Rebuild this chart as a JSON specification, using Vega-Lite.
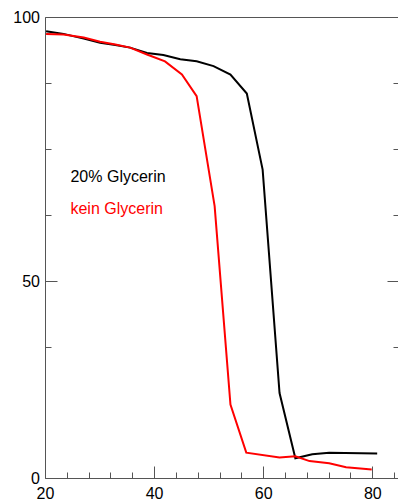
{
  "$schema": "https://vega.github.io/schema/vega-lite/v6.json",
  "autosize": {"type": "none"},
  "padding": {"left": 45, "top": 17, "right": 0, "bottom": 25},
  "width": 354,
  "height": 461,
  "background": "white",
  "config": {
    "view": {"stroke": null},
    "axis": {"grid": false, "labelFlush": false, "labelOverlap": false, "labelBound": false, "title": null,
             "domainColor": "#555", "tickColor": "#555", "labelFont": "Liberation Sans", "labelFontSize": 16,
             "labelColor": "#000", "domainWidth": 1, "tickWidth": 1}
  },
  "datasets": {
    "curves": [
      {"series": "20% Glycerin", "temp": 20.2, "value": 97.3},
      {"series": "20% Glycerin", "temp": 23.4, "value": 96.8},
      {"series": "20% Glycerin", "temp": 27.1, "value": 95.9},
      {"series": "20% Glycerin", "temp": 30.1, "value": 95.1},
      {"series": "20% Glycerin", "temp": 32.9, "value": 94.7},
      {"series": "20% Glycerin", "temp": 35.6, "value": 94.2},
      {"series": "20% Glycerin", "temp": 38.7, "value": 93.2},
      {"series": "20% Glycerin", "temp": 41.7, "value": 92.8},
      {"series": "20% Glycerin", "temp": 44.8, "value": 92.0},
      {"series": "20% Glycerin", "temp": 47.8, "value": 91.6},
      {"series": "20% Glycerin", "temp": 50.9, "value": 90.7},
      {"series": "20% Glycerin", "temp": 54.0, "value": 89.1},
      {"series": "20% Glycerin", "temp": 57.0, "value": 85.5},
      {"series": "20% Glycerin", "temp": 59.9, "value": 71.1},
      {"series": "20% Glycerin", "temp": 63.0, "value": 28.8},
      {"series": "20% Glycerin", "temp": 65.9, "value": 16.45},
      {"series": "20% Glycerin", "temp": 69.0, "value": 17.2},
      {"series": "20% Glycerin", "temp": 72.1, "value": 17.5},
      {"series": "20% Glycerin", "temp": 80.9, "value": 17.35},
      {"series": "kein Glycerin", "temp": 20.2, "value": 96.8},
      {"series": "kein Glycerin", "temp": 23.4, "value": 96.7},
      {"series": "kein Glycerin", "temp": 27.1, "value": 96.1},
      {"series": "kein Glycerin", "temp": 30.1, "value": 95.3},
      {"series": "kein Glycerin", "temp": 32.9, "value": 94.8},
      {"series": "kein Glycerin", "temp": 35.6, "value": 94.2},
      {"series": "kein Glycerin", "temp": 38.7, "value": 92.9},
      {"series": "kein Glycerin", "temp": 42.0, "value": 91.6},
      {"series": "kein Glycerin", "temp": 45.1, "value": 89.1},
      {"series": "kein Glycerin", "temp": 47.8, "value": 85.0},
      {"series": "kein Glycerin", "temp": 51.1, "value": 64.2},
      {"series": "kein Glycerin", "temp": 54.0, "value": 26.6},
      {"series": "kein Glycerin", "temp": 56.9, "value": 17.5},
      {"series": "kein Glycerin", "temp": 63.0, "value": 16.6},
      {"series": "kein Glycerin", "temp": 65.9, "value": 16.8},
      {"series": "kein Glycerin", "temp": 68.5, "value": 15.9},
      {"series": "kein Glycerin", "temp": 72.1, "value": 15.5},
      {"series": "kein Glycerin", "temp": 75.2, "value": 14.75},
      {"series": "kein Glycerin", "temp": 79.9, "value": 14.3}
    ],
    "labels": [
      {"series": "20% Glycerin", "temp": 24.67, "value": 68.7},
      {"series": "kein Glycerin", "temp": 24.67, "value": 62.66}
    ]
  },
  "resolve": {"axis": {"x": "independent", "y": "independent"}},
  "layer": [
    {
      "data": {"name": "curves"},
      "mark": {"type": "line", "strokeWidth": 2, "clip": true},
      "encoding": {
        "x": {"field": "temp", "type": "quantitative",
              "scale": {"domain": [20, 84.9], "nice": false, "zero": false},
              "axis": {"orient": "bottom", "values": [20, 40, 60, 80], "tickSize": -12, "labelPadding": 19}},
        "y": {"field": "value", "type": "quantitative",
              "scale": {"domain": [12.7, 100], "nice": false, "zero": false},
              "axis": {"orient": "left", "values": [12.7, 50, 100], "tickSize": -12, "labelPadding": 17.5,
                       "labelExpr": "datum.value < 20 ? '0' : datum.label"}},
        "color": {"field": "series", "type": "nominal",
                  "scale": {"domain": ["20% Glycerin", "kein Glycerin"], "range": ["#000000", "#ff0000"]},
                  "legend": null}
      }
    },
    {
      "data": {"name": "labels"},
      "mark": {"type": "text", "align": "left", "baseline": "alphabetic", "font": "Liberation Sans", "fontSize": 16},
      "encoding": {
        "x": {"field": "temp", "type": "quantitative",
              "axis": {"orient": "bottom", "values": [24, 28, 32, 36, 44, 48, 52, 56, 64, 68, 72, 76, 84], "tickSize": -6, "labels": false, "domain": false}},
        "y": {"field": "value", "type": "quantitative",
              "axis": {"orient": "left", "values": [37.5, 62.5, 75, 87.5], "tickSize": -6, "labels": false, "domain": false}},
        "text": {"field": "series"},
        "color": {"field": "series", "type": "nominal", "legend": null}
      }
    },
    {
      "data": {"name": "curves"},
      "mark": {"type": "point", "opacity": 0},
      "encoding": {
        "x": {"field": "temp", "type": "quantitative",
              "axis": {"orient": "top", "ticks": false, "labels": false, "domain": true}},
        "y": {"field": "value", "type": "quantitative",
              "axis": {"orient": "right", "values": [50, 100], "tickSize": -12, "labels": false}}
      }
    },
    {
      "data": {"name": "curves"},
      "mark": {"type": "point", "opacity": 0},
      "encoding": {
        "x": {"field": "temp", "type": "quantitative", "axis": null},
        "y": {"field": "value", "type": "quantitative",
              "axis": {"orient": "right", "values": [37.5, 62.5, 75, 87.5], "tickSize": -6, "labels": false, "domain": false}}
      }
    }
  ]
}
